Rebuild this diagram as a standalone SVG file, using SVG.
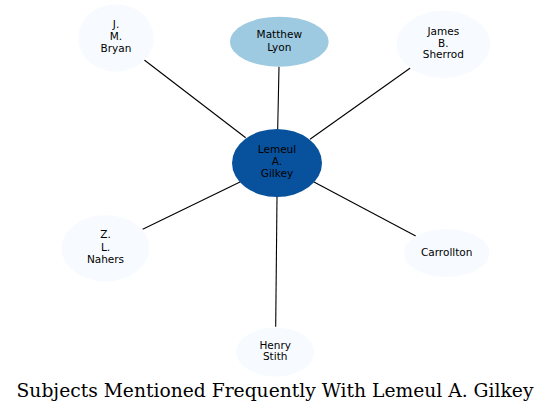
<svg xmlns="http://www.w3.org/2000/svg" width="552" height="413" viewBox="0 0 552 413">
<style>
.n{font-family:"DejaVu Sans",sans-serif;font-size:10.5px;fill:#000;text-anchor:middle}
.e{stroke:#000;stroke-width:1.1;fill:none}
.lt{fill:#f7fbff}
.t{font-family:"DejaVu Serif",serif;font-size:18.7px;fill:#000;text-anchor:middle}
</style>
<rect width="552" height="413" fill="#fff"/>
<g id="connectors">
<line class="e" x1="144.3" y1="60" x2="245.7" y2="137.7"/>
<line class="e" x1="279" y1="66.7" x2="277.7" y2="129"/>
<line class="e" x1="410.3" y1="68" x2="310" y2="139.3"/>
<line class="e" x1="142.7" y1="229.3" x2="240" y2="182"/>
<line class="e" x1="415.7" y1="236" x2="314" y2="182"/>
<line class="e" x1="275.7" y1="326.7" x2="277" y2="197"/>
</g>
<g id="gilkey">
<ellipse cx="277" cy="163" rx="45" ry="34" fill="#08519c"/>
<text class="n" x="277" y="152.5">Lemeul</text>
<text class="n" x="277" y="164.5">A.</text>
<text class="n" x="277" y="176.5">Gilkey</text>
</g>
<g id="bryan">
<ellipse class="lt" cx="116" cy="38" rx="37.7" ry="33.7"/>
<text class="n" x="116" y="28">J.</text>
<text class="n" x="116" y="40">M.</text>
<text class="n" x="116" y="52">Bryan</text>
</g>
<g id="lyon">
<ellipse cx="279.3" cy="41.7" rx="49.3" ry="25" fill="#9ecae1"/>
<text class="n" x="279.3" y="38.3">Matthew</text>
<text class="n" x="279.3" y="50.5">Lyon</text>
</g>
<g id="sherrod">
<ellipse class="lt" cx="443.3" cy="44.3" rx="46.7" ry="33.7"/>
<text class="n" x="443.3" y="34.5">James</text>
<text class="n" x="443.3" y="46.7">B.</text>
<text class="n" x="443.3" y="58.3">Sherrod</text>
</g>
<g id="nahers">
<ellipse class="lt" cx="105.5" cy="248.3" rx="43.8" ry="33.3"/>
<text class="n" x="105.5" y="238">Z.</text>
<text class="n" x="105.5" y="250.5">L.</text>
<text class="n" x="105.5" y="262.5">Nahers</text>
</g>
<g id="carrollton">
<ellipse class="lt" cx="446.7" cy="253" rx="42.7" ry="24"/>
<text class="n" x="446.7" y="255.5">Carrollton</text>
</g>
<g id="stith">
<ellipse class="lt" cx="275.2" cy="352" rx="39" ry="24.5"/>
<text class="n" x="275.2" y="348.5">Henry</text>
<text class="n" x="275.2" y="360">Stith</text>
</g>
<text class="t" x="275" y="396.7">Subjects Mentioned Frequently With Lemeul A. Gilkey</text>
</svg>
